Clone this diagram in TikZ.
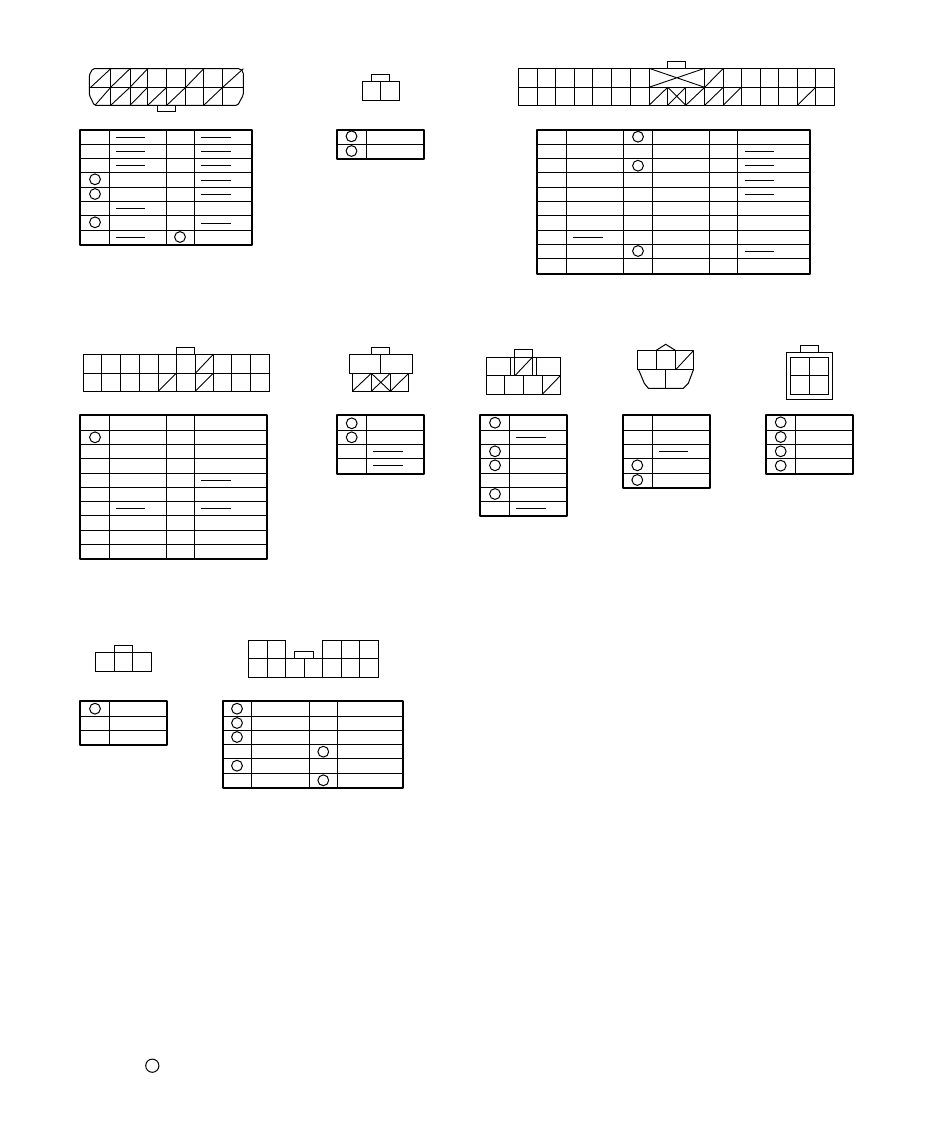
\documentclass[tikz,border=0pt]{standalone}
\tikzset{
  frame/.style={line width=2pt,line join=round},
  grid/.style={line width=1pt},
  pin/.style={line width=1pt},
  blank/.style={line width=1pt},
  part/.style={line width=1pt,line join=miter},
  slash/.style={line width=.9pt}
}
% outer box with inner column and row rules: x0, inner xs, x1, y0, inner ys, y1
\newcommand{\ctable}[6]{%
  \foreach \cx in {#2} {\draw[grid] (\cx,#4) -- (\cx,#6);}
  \foreach \cy in {#5} {\draw[grid] (#1,\cy) -- (#3,\cy);}
  \draw[frame] (#1,#4) rectangle (#3,#6);
}
\newcommand{\cpin}[2]{\draw[pin] (#1,#2) circle[radius=5.4pt];}
\newcommand{\cblank}[3]{\draw[blank] (#1,#3) -- (#2,#3);}
\newcommand{\cbox}[4]{\draw[part] (#1,#2) rectangle (#3,#4);}
\newcommand{\cdiag}[4]{\draw[slash] (#1,#4) -- (#3,#2);}
\newcommand{\ccross}[4]{\draw[slash] (#1,#4) -- (#3,#2) (#1,#2) -- (#3,#4);}
\begin{document}
\begin{tikzpicture}[x=1pt,y=-1pt]
\useasboundingbox (0,0) rectangle (950,1130);
\fill[white] (0,0) rectangle (950,1130);

% ---------- connector 1 ----------
\draw[part,rounded corners=1.5pt] (92.7,68.7) -- (240,68.7) -- (243.3,72) -- (243.3,95) -- (237.7,105.3) -- (94.3,105.3) -- (89.3,95) -- (89.3,75) -- cycle;
\draw[part] (89.3,87.3) -- (243.3,87.3);
\foreach \vx in {110.7,130,147.7,166.7,185.7,203.7,222.7} {\draw[part] (\vx,68.7) -- (\vx,105.3);}
\draw[part] (157.3,105.3) -- (157.3,111.7) -- (175.7,111.7) -- (175.7,105.3);
\cdiag{90.7}{68.7}{110.7}{87.3}
\cdiag{110.7}{68.7}{130}{87.3}
\cdiag{130}{68.7}{147.7}{87.3}
\cdiag{185.7}{68.7}{203.7}{87.3}
\cdiag{222.7}{68.7}{243.3}{87.3}
\cdiag{95}{87.3}{110.7}{105.3}
\cdiag{110.7}{87.3}{130}{105.3}
\cdiag{130}{87.3}{147.7}{105.3}
\cdiag{147.7}{87.3}{166.7}{105.3}
\cdiag{166.7}{87.3}{185.7}{105.3}
\cdiag{203.7}{87.3}{222.7}{105.3}
% table 1
\ctable{80}{109.3,166.7,194.7}{252}{130}{144.3,158.3,172.3,187.3,201.3,215.3,230.3}{245}
\foreach \by in {137,151,165,208.3,237.3} {\cblank{116}{145}{\by}}
\foreach \by in {137,151,165,180.3,194.3,223.3} {\cblank{201}{231}{\by}}
\cpin{95}{179.3}\cpin{95}{194}\cpin{95}{222.3}\cpin{180}{237}

% ---------- connector 2 ----------
\cbox{371.3}{74.3}{389.7}{81.3}
\cbox{362.3}{81.3}{399.7}{100.3}
\draw[part] (380.3,81.3) -- (380.3,100.3);
\ctable{336.7}{366.3}{424}{130.3}{144.3}{159}
\cpin{351.5}{136.3}\cpin{351.5}{151}

% ---------- connector 3 ----------
\cbox{667.3}{61.3}{685.7}{68.3}
\cbox{518.3}{68.3}{834.3}{105.3}
\draw[part] (518.3,87.3) -- (834.3,87.3);
\foreach \vx in {537.3,555.3,574.3,592.3,611.3,630.3,649,704.7,723.3,741.3,760.3,778.3,797.3,815.7} {\draw[part] (\vx,68.3) -- (\vx,105.3);}
\foreach \vx in {667.7,685.7} {\draw[part] (\vx,87.3) -- (\vx,105.3);}
\ccross{649}{68.3}{704.7}{87.3}
\cdiag{704.7}{68.3}{723.3}{87.3}
\cdiag{649}{87.3}{667.7}{105.3}
\ccross{667.7}{87.3}{685.7}{105.3}
\cdiag{685.7}{87.3}{704.7}{105.3}
\cdiag{704.7}{87.3}{723.3}{105.3}
\cdiag{723.3}{87.3}{741.3}{105.3}
\cdiag{797.3}{87.3}{815.7}{105.3}
% table 3
\ctable{536.7}{566.7,623.3,652.3,709.3,737.7}{810}{130}{144.3,158.3,172.3,187.3,201.3,215.3,230.3,244.3,258.3}{273.7}
\foreach \by in {151,165,180.3,194.3,251.3} {\cblank{745}{774}{\by}}
\cblank{573}{603}{237.3}
\cpin{638}{136.7}\cpin{638}{165.7}\cpin{638}{251}

% ---------- connector 4 ----------
\cbox{176.3}{347.3}{194.7}{354.3}
\cbox{83.3}{354.3}{269.3}{391.3}
\draw[part] (83.3,373.3) -- (269.3,373.3);
\foreach \vx in {101.3,120.3,139.3,158.3,176.3,195.3,213.3,231.3,250.3} {\draw[part] (\vx,354.3) -- (\vx,391.3);}
\cdiag{195.3}{354.3}{213.3}{373.3}
\cdiag{158.3}{373.3}{176.3}{391.3}
\cdiag{195.3}{373.3}{213.3}{391.3}
% table 4
\ctable{80}{109.3,166.7,194.7}{266.7}{415}{430.3,444.3,458.3,473.3,487.3,501.3,515.3,530.3,544.3}{558.7}
\cblank{116}{145}{508.3}
\cblank{201}{231}{480.3}
\cblank{201}{231}{508.3}
\cpin{95}{437.3}

% ---------- connector 5 ----------
\cbox{371.3}{347.3}{389.7}{354.3}
\cbox{349.3}{354.3}{412.3}{373.3}
\draw[part] (380.3,354.3) -- (380.3,373.3);
\cbox{352.3}{373.3}{408.7}{391.3}
\foreach \vx in {371.3,390.3} {\draw[part] (\vx,373.3) -- (\vx,391.3);}
\cdiag{352.3}{373.3}{371.3}{391.3}
\ccross{371.3}{373.3}{390.3}{391.3}
\cdiag{390.3}{373.3}{408.7}{391.3}
\ctable{336.7}{366.3}{424}{415}{430.3,444.3,458.3}{474}
\cpin{351.7}{423.3}\cpin{351.7}{437.3}
\cblank{373.3}{402.7}{451.3}
\cblank{373.3}{402.7}{465.3}

% ---------- connector 6 ----------
\draw[part] (514.3,357.3) -- (514.3,349.3) -- (532.3,349.3) -- (532.3,357.3);
\cbox{486.3}{357.3}{560.7}{375.3}
\foreach \vx in {510.3,514.3,532.3,536.3} {\draw[part] (\vx,357.3) -- (\vx,375.3);}
\cbox{486.3}{375.3}{560.7}{394.3}
\foreach \vx in {504.3,523.3,542.3} {\draw[part] (\vx,375.3) -- (\vx,394.3);}
\cdiag{515.3}{357.3}{532.3}{375.3}
\cdiag{542.3}{375.3}{560.7}{394.3}
\ctable{480.3}{509.3}{567.3}{415}{430.3,444.3,458.3,473.3,487.3,501.3}{515.8}
\cpin{495}{422.7}\cpin{495}{451.3}\cpin{495}{465.3}\cpin{495}{494}
\cblank{516}{545.7}{437.3}
\cblank{516}{545.7}{508.3}

% ---------- connector 7 ----------
\draw[part] (656.3,350.3) -- (665.7,344.3) -- (675.3,350.3);
\cbox{637.3}{350.3}{693.7}{369}
\foreach \vx in {656.3,675.3} {\draw[part] (\vx,350.3) -- (\vx,369);}
\cdiag{676.3}{350.3}{693.7}{369}
\draw[part] (638.3,369) -- (644.3,383.3) -- (648.3,388.3) -- (683.3,388.3) -- (688.3,383.3) -- (693.7,369);
\draw[part] (665.3,369) -- (665.3,388.3);
\ctable{622.7}{652.3}{710}{415}{430.3,444.3,458.3,473.3}{488}
\cblank{659}{687.7}{451.3}
\cpin{637.3}{465.3}\cpin{637.3}{480}

% ---------- connector 8 ----------
\cbox{800.3}{345.3}{818.7}{352.3}
\cbox{786.3}{352.3}{832.7}{399.3}
\cbox{790.3}{357.3}{828.3}{394.3}
\draw[part] (809.3,357.3) -- (809.3,394.3) (790.3,375.3) -- (828.3,375.3);
\ctable{766.3}{795.3}{853}{415}{430.3,444.3,458.3}{473.8}
\cpin{780.7}{422.3}\cpin{780.7}{437}\cpin{780.7}{451.3}\cpin{780.7}{465.7}

% ---------- connector 9 ----------
\cbox{114.3}{645.3}{132.3}{652.3}
\cbox{95.3}{652.3}{151.3}{671.3}
\draw[part] (114.3,652.3) -- (114.3,671.3) (132.3,652.3) -- (132.3,671.3);
\ctable{80}{109.3}{166.7}{701}{716.3,730.3}{744.7}
\cpin{95}{708.7}

% ---------- connector 10 ----------
\draw[part] (248.3,640.3) -- (285.3,640.3) -- (285.3,658.3) -- (322.3,658.3) -- (322.3,640.3) -- (378.3,640.3) -- (378.3,677.3) -- (248.3,677.3) -- cycle;
\draw[part] (248.3,658.3) -- (378.3,658.3);
\draw[part] (294.3,658.3) -- (294.3,651.3) -- (313.3,651.3) -- (313.3,658.3);
\foreach \vx in {267.3,341.3,359.3} {\draw[part] (\vx,640.3) -- (\vx,677.3);}
\foreach \vx in {285.3,304.3,322.3} {\draw[part] (\vx,658.3) -- (\vx,677.3);}
\ctable{223}{251.3,309.3,337.3}{403}{701}{716.3,730.3,744.7,758.3,773.3}{787.7}
\cpin{237}{708.7}\cpin{237}{723}\cpin{237}{737}\cpin{237}{765.7}
\cpin{323.3}{751.7}\cpin{323.3}{780.3}

% ---------- lone mark ----------
\draw[pin] (152.3,1065.7) circle[radius=6.6pt];
\end{tikzpicture}
\end{document}
